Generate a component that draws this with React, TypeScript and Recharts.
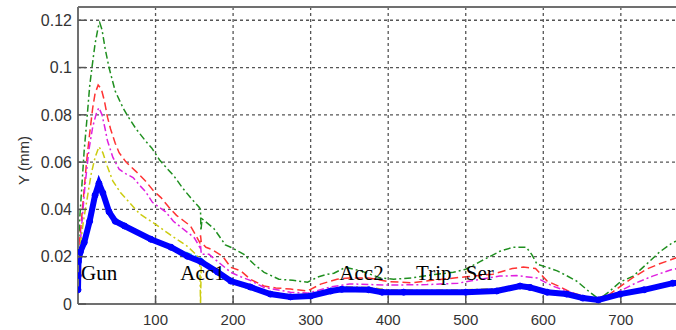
import React from 'react'
import {
  LineChart,
  Line,
  XAxis,
  YAxis,
  CartesianGrid,
  ReferenceDot,
} from 'recharts'

// [x, y] samples, one list per curve
const green: [number, number][] = [
  [0, 0.018], [2, 0.035], [5, 0.05], [8, 0.065], [12, 0.08], [15, 0.092], [18, 0.1],
  [22, 0.11], [26, 0.117], [28, 0.119], [31, 0.116], [35, 0.108], [40, 0.1], [48, 0.09],
  [58, 0.083], [65, 0.079], [75, 0.074], [87, 0.069], [95, 0.066], [105, 0.061],
  [113, 0.058], [124, 0.054], [135, 0.049], [145, 0.045], [156, 0.041], [158, 0.04],
  [158.5, 0.031], [160, 0.036], [175, 0.032], [190, 0.025], [197, 0.024], [214, 0.021],
  [227, 0.0168], [240, 0.0134], [259, 0.0105], [277, 0.01], [296, 0.0092], [309, 0.0114],
  [322, 0.0126], [330, 0.013], [345, 0.0155], [365, 0.014], [390, 0.011], [407, 0.0105],
  [430, 0.011], [460, 0.0125], [484, 0.0134], [500, 0.0147], [519, 0.018], [544, 0.0223],
  [561, 0.024], [578, 0.024], [585, 0.021], [592, 0.0168], [605, 0.0155], [618, 0.014],
  [630, 0.012], [643, 0.0097], [660, 0.005], [672, 0.002], [686, 0.0055], [699, 0.0093],
  [716, 0.0118], [733, 0.0168], [750, 0.022], [767, 0.026], [775, 0.027],
]

const red: [number, number][] = [
  [0, 0.02], [3, 0.03], [7, 0.045], [11, 0.06], [15, 0.072], [19, 0.083], [22, 0.089],
  [26, 0.0926], [30, 0.091], [34, 0.086], [38, 0.079], [42, 0.074], [48, 0.068],
  [53, 0.064], [62, 0.06], [75, 0.056], [87, 0.052], [97, 0.048], [107, 0.045],
  [117, 0.041], [127, 0.0375], [137, 0.035], [145, 0.033], [152, 0.029], [157, 0.026],
  [158, 0.029], [159, 0.026], [165, 0.024], [173, 0.023], [187, 0.02], [197, 0.0155],
  [210, 0.014], [222, 0.0105], [240, 0.0076], [255, 0.0068], [274, 0.0063], [296, 0.0055],
  [313, 0.0084], [334, 0.0105], [350, 0.011], [375, 0.011], [400, 0.0095], [430, 0.009],
  [470, 0.0105], [500, 0.0115], [535, 0.0126], [560, 0.015], [574, 0.0156], [590, 0.015],
  [605, 0.0097], [620, 0.0075], [635, 0.005], [655, 0.003], [670, 0.0025], [685, 0.004],
  [700, 0.0076], [715, 0.011], [733, 0.0147], [750, 0.017], [767, 0.019], [775, 0.02],
]

const magenta: [number, number][] = [
  [0, 0.015], [4, 0.03], [9, 0.05], [14, 0.065], [19, 0.075], [24, 0.081], [27, 0.083],
  [31, 0.08], [35, 0.074], [38, 0.069], [45, 0.062], [53, 0.057], [62, 0.055],
  [71, 0.0535], [80, 0.05], [87, 0.0476], [96, 0.043], [113, 0.039], [123, 0.035],
  [133, 0.0324], [150, 0.028], [157, 0.024], [158, 0.025], [159, 0.021], [169, 0.021],
  [180, 0.018], [197, 0.0134], [210, 0.0115], [222, 0.01], [240, 0.007], [274, 0.005],
  [296, 0.0046], [326, 0.0072], [350, 0.0085], [400, 0.008], [450, 0.0082], [490, 0.0088],
  [520, 0.0105], [544, 0.0118], [566, 0.012], [592, 0.011], [612, 0.0076], [643, 0.004],
  [672, 0.0015], [699, 0.0055], [720, 0.009], [741, 0.0118], [767, 0.0147], [775, 0.015],
]

const yellow: [number, number][] = [
  [0, 0], [0.5, 0.012], [3, 0.025], [7, 0.035], [12, 0.045], [17, 0.055], [22, 0.062],
  [27, 0.0665], [32, 0.064], [38, 0.058], [45, 0.052], [55, 0.047], [66, 0.043],
  [80, 0.038], [100, 0.0337], [122, 0.0286], [141, 0.0244], [152, 0.021], [157, 0.019],
  [158, 0], [159, 0.018], [170, 0.016], [185, 0.013], [200, 0.0095], [222, 0.0075],
  [248, 0.005], [274, 0.0038], [300, 0.0042], [326, 0.006], [345, 0.0073], [375, 0.007],
  [400, 0.006], [450, 0.0058], [500, 0.006], [540, 0.0065], [570, 0.0082], [583, 0.008],
  [605, 0.0058], [630, 0.0048], [650, 0.003], [670, 0.002], [700, 0.0048], [730, 0.0068],
  [767, 0.0095], [775, 0.01],
]

const cyan: [number, number][] = [
  [0, 0.002], [1, 0.01], [4, 0.02], [10, 0.027], [16, 0.036], [22, 0.047], [27, 0.052],
  [32, 0.048], [40, 0.04], [48, 0.036], [60, 0.034], [103, 0.0262], [158, 0.0195],
  [180, 0.014], [200, 0.0088], [222, 0.0062], [248, 0.0042], [274, 0.003], [300, 0.0033],
  [326, 0.0053], [345, 0.0062], [375, 0.006], [400, 0.0048], [500, 0.0047], [540, 0.0052],
  [570, 0.0072], [583, 0.007], [605, 0.0048], [630, 0.004], [650, 0.0023], [670, 0.0015],
  [700, 0.004], [730, 0.0058], [767, 0.0086], [775, 0.0088],
]

const blue: [number, number][] = [
  [0, 0.006], [0.3, 0.012], [0.6, 0.018], [3, 0.022], [8, 0.026], [15, 0.035],
  [22, 0.046], [27, 0.051], [32, 0.047], [40, 0.039], [48, 0.035], [60, 0.033],
  [94, 0.0274], [120, 0.024], [141, 0.0202], [158, 0.018], [180, 0.0135], [197, 0.0097],
  [222, 0.0072], [248, 0.0042], [274, 0.003], [300, 0.0034], [326, 0.0055], [340, 0.0062],
  [375, 0.006], [392, 0.005], [420, 0.005], [500, 0.005], [540, 0.0055], [570, 0.0076],
  [583, 0.007], [605, 0.005], [630, 0.0042], [651, 0.0025], [671, 0.0017], [699, 0.0042],
  [730, 0.006], [767, 0.0088], [775, 0.009],
]

const xTicks = [100, 200, 300, 400, 500, 600, 700]
const yTicks = [0, 0.02, 0.04, 0.06, 0.08, 0.1, 0.12]

const stageNames = ['Gun', 'Acc1', 'Acc2', 'Trip', 'Ser']
const stageX = [4, 132, 337, 436, 500]
const stageY = 0.0102

const toRows = (pts: [number, number][]) => pts.map(([x, y]) => ({ x, y }))

const tickFont = { fill: '#333', fontSize: 15, fontFamily: 'Liberation Sans, Arial, sans-serif' }
const frame = { stroke: '#707070', strokeWidth: 2 }
const tickMark = { stroke: '#555', strokeWidth: 1.5 }

export default function App() {
  return (
    <div
      style={{
        position: 'absolute',
        left: 0,
        top: 0,
        width: 676,
        height: 330,
        overflow: 'hidden',
        background: '#fff',
      }}
    >
      <LineChart width={689} height={330} margin={{ top: 0, right: 0, bottom: 0, left: 0 }}>
        <CartesianGrid stroke="#555" strokeDasharray="3 3" strokeWidth={1.3} />
        <XAxis
          dataKey="x"
          type="number"
          domain={[0, 775]}
          ticks={xTicks}
          allowDataOverflow
          height={26}
          tick={tickFont}
          tickSize={-8}
          tickMargin={18}
          tickLine={tickMark}
          axisLine={frame}
        />
        <XAxis
          xAxisId="top"
          orientation="top"
          dataKey="x"
          type="number"
          domain={[0, 775]}
          ticks={xTicks}
          height={7}
          tick={false}
          tickSize={-8}
          tickLine={tickMark}
          axisLine={frame}
        />
        <YAxis
          type="number"
          domain={[0, 0.1256]}
          ticks={yTicks}
          allowDataOverflow
          width={78}
          tick={{ ...tickFont, fontSize: 16 }}
          tickSize={-8}
          tickMargin={14}
          tickLine={tickMark}
          axisLine={frame}
          tickFormatter={(v: number) => String(v)}
          label={{
            content: (p: any) => {
              const vb = p.viewBox
              const cx = vb.x + 25
              const cy = vb.y + vb.height / 2 + 5
              return (
                <text
                  x={cx}
                  y={cy}
                  transform={`rotate(-90, ${cx}, ${cy})`}
                  textAnchor="middle"
                  dominantBaseline="middle"
                  fill="#333"
                  fontSize={15}
                  fontFamily="Liberation Sans, Arial, sans-serif"
                >
                  Y (mm)
                </text>
              )
            },
          }}
        />
        <YAxis
          yAxisId="right"
          orientation="right"
          type="number"
          domain={[0, 0.1256]}
          ticks={yTicks}
          width={10}
          tick={false}
          tickSize={-8}
          tickLine={tickMark}
          axisLine={frame}
        />

        <Line data={toRows(green)} dataKey="y" type="linear" stroke="#1f8f1f" strokeWidth={1.5}
          strokeDasharray="7 3 2 3" dot={false} isAnimationActive={false} />
        <Line data={toRows(red)} dataKey="y" type="linear" stroke="#ff3333" strokeWidth={1.5}
          strokeDasharray="8 4" dot={false} isAnimationActive={false} />
        <Line data={toRows(magenta)} dataKey="y" type="linear" stroke="#e020e0" strokeWidth={1.5}
          strokeDasharray="7 3 2 3" dot={false} isAnimationActive={false} />
        <Line data={toRows(yellow)} dataKey="y" type="linear" stroke="#cccc10" strokeWidth={1.5}
          strokeDasharray="7 3 2 3" dot={false} isAnimationActive={false} />
        <Line data={toRows(cyan)} dataKey="y" type="linear" stroke="#20c8d0" strokeWidth={1.5}
          strokeDasharray="7 3 2 3" dot={false} isAnimationActive={false} />
        <Line data={toRows(blue)} dataKey="y" type="linear" stroke="#0000ff" strokeWidth={6}
          dot={{ r: 3, fill: '#0000ff', stroke: '#0000ff', strokeWidth: 1 }}
          isAnimationActive={false} />

        {stageNames.map((name, i) => (
          <ReferenceDot
            key={name}
            x={stageX[i]}
            y={stageY}
            r={0}
            shape={(p: any) => (
              <text x={p.cx} y={p.cy} fill="#000" fontSize={21}
                fontFamily="Liberation Serif, Times New Roman, serif">
                {name}
              </text>
            )}
          />
        ))}
      </LineChart>
    </div>
  )
}
